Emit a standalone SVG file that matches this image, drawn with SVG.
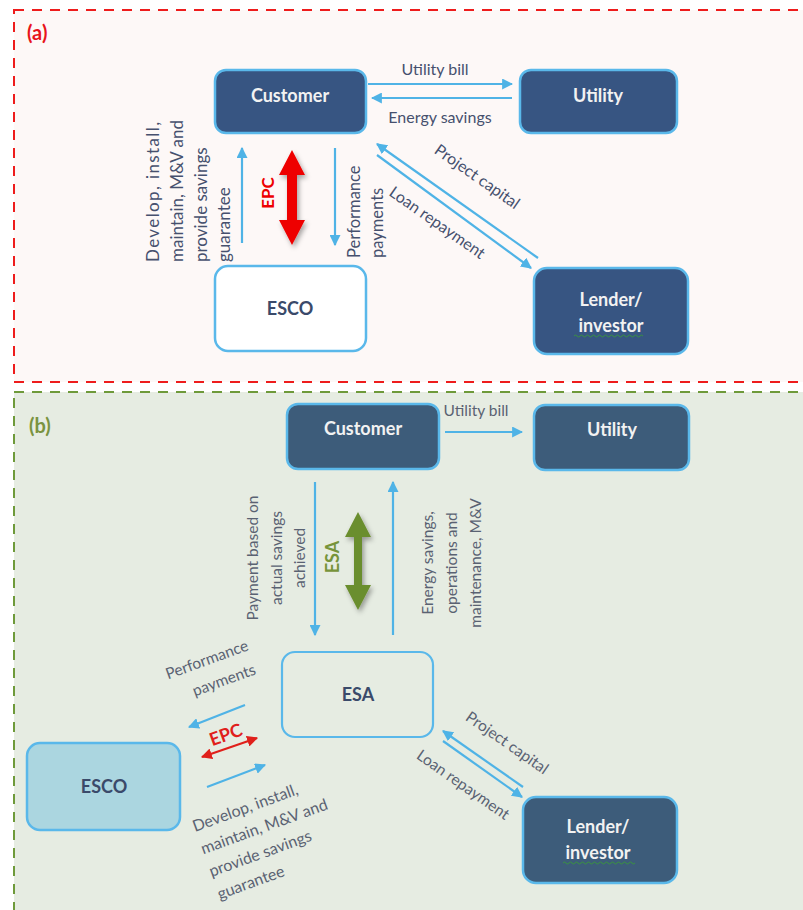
<svg xmlns="http://www.w3.org/2000/svg" width="803" height="910" viewBox="0 0 803 910">
<defs>
<style>
.lbl{font-family:Lato,"Liberation Sans",sans-serif;font-size:16px;fill:#46506e}
.lblb{font-family:Lato,"Liberation Sans",sans-serif;font-size:15.5px;fill:#5a6272}
.nodeA{fill:#375582;stroke:#5ab8ea;stroke-width:2.5}
.nodeB{fill:#3d5c7a;stroke:#5ab8ea;stroke-width:2.5}
.ntxt{font-family:Lato,"Liberation Sans",sans-serif;font-size:18px;font-weight:bold;fill:#f2f2f2;text-anchor:middle}
.dtxt{font-family:Lato,"Liberation Sans",sans-serif;font-size:18px;font-weight:bold;fill:#3a4a6a;text-anchor:middle}
.arr{stroke:#4fb3e6;stroke-width:2.2;fill:none;marker-end:url(#ah)}
</style>
<marker id="ah" viewBox="0 0 10 10" refX="9" refY="5" markerWidth="5" markerHeight="5" orient="auto" markerUnits="strokeWidth">
<path d="M0,0 L10,5 L0,10 z" fill="#4fb3e6"/>
</marker>
<marker id="rh" viewBox="0 0 10 10" refX="9" refY="5" markerWidth="5" markerHeight="5" orient="auto-start-reverse" markerUnits="strokeWidth">
<path d="M0,0 L10,5 L0,10 z" fill="#e0201b"/>
</marker>
<filter id="sh" x="-50%" y="-20%" width="200%" height="140%">
<feDropShadow dx="2" dy="3" stdDeviation="2.5" flood-color="#000" flood-opacity="0.35"/>
</filter>
</defs>
<rect x="0" y="0" width="803" height="910" fill="#ffffff"/>
<g id="panel-a">
<rect x="14" y="10" width="800" height="372" fill="#fdf8f7" stroke="#ee1c1c" stroke-width="2" stroke-dasharray="10 8"/>
<text x="27" y="40" font-family="Lato,'Liberation Sans',sans-serif" font-size="20" font-weight="bold" fill="#e8141b">(a)</text>
</g>
<g id="panel-b">
<rect x="14" y="392" width="800" height="540" fill="#e6ece2" stroke="#6e9a3a" stroke-width="2" stroke-dasharray="10 8"/>
<text x="29" y="433" font-family="Lato,'Liberation Sans',sans-serif" font-size="20" font-weight="bold" fill="#7a9340">(b)</text>
</g>

<g id="connectors">
<!-- panel a -->
<line class="arr" x1="368" y1="84" x2="512" y2="84"/>
<line class="arr" x1="512" y1="98" x2="372" y2="98"/>
<line class="arr" x1="538" y1="258" x2="377" y2="144"/>
<line class="arr" x1="377" y1="155" x2="531" y2="268"/>
<line class="arr" x1="242" y1="243" x2="242" y2="148"/>
<line class="arr" x1="335" y1="148" x2="335" y2="245"/>
<polygon filter="url(#sh)" fill="#ee0000" points="292,150 305,175 297,175 297,220 305,220 292,245 279,220 287,220 287,175 279,175"/>
<!-- panel b -->
<line class="arr" x1="445" y1="432" x2="522" y2="432"/>
<line class="arr" x1="315" y1="482" x2="315" y2="635"/>
<line class="arr" x1="393" y1="635" x2="393" y2="482"/>
<polygon filter="url(#sh)" fill="#6b8e2f" points="358,512 371,537 362,537 362,585 371,585 358,610 345,585 354,585 354,537 345,537"/>
<line class="arr" x1="245" y1="705" x2="189" y2="727"/>
<line x1="202" y1="757" x2="257" y2="738" stroke="#e0201b" stroke-width="2.2" marker-start="url(#rh)" marker-end="url(#rh)"/>
<line class="arr" x1="207" y1="787" x2="265" y2="765"/>
<line class="arr" x1="523" y1="787" x2="443" y2="731"/>
<line class="arr" x1="443" y1="741" x2="522" y2="797"/>
</g>

<g id="labels-a">
<text class="lbl" x="435" y="75" text-anchor="middle">Utility bill</text>
<text class="lbl" x="440" y="123" text-anchor="middle">Energy savings</text>
<text class="lbl" transform="translate(477,177) rotate(35)" text-anchor="middle" dy="5">Project capital</text>
<text class="lbl" transform="translate(437,223) rotate(35)" text-anchor="middle" dy="5">Loan repayment</text>
<g transform="translate(159,262) rotate(-90)" style="font-size:17px">
<text class="lbl" x="0" y="0" style="font-size:17px" textLength="140" lengthAdjust="spacing">Develop, install,</text>
<text class="lbl" x="0" y="24" style="font-size:17px">maintain, M&amp;V and</text>
<text class="lbl" x="0" y="48" style="font-size:17px">provide  savings</text>
<text class="lbl" x="0" y="71" style="font-size:17px">guarantee</text>
</g>
<g transform="translate(360,258) rotate(-90)">
<text class="lbl" x="0" y="0" style="font-size:16.5px">Performance</text>
<text class="lbl" x="0" y="23" style="font-size:16.5px">payments</text>
</g>
<text transform="translate(274,193) rotate(-90)" text-anchor="middle" font-family="Lato,'Liberation Sans',sans-serif" font-size="17" font-weight="bold" fill="#ee0000">EPC</text>
</g>

<g id="labels-b">
<text class="lblb" x="476" y="416" text-anchor="middle">Utility bill</text>
<g transform="translate(258,558) rotate(-90)" text-anchor="middle">
<text class="lblb" x="0" y="0">Payment  based on</text>
<text class="lblb" x="0" y="24">actual savings</text>
<text class="lblb" x="0" y="47">achieved</text>
</g>
<text transform="translate(339,557) rotate(-90)" text-anchor="middle" font-family="Lato,'Liberation Sans',sans-serif" font-size="18" font-weight="bold" fill="#77943a">ESA</text>
<g transform="translate(433,563) rotate(-90)" text-anchor="middle">
<text class="lblb" x="0" y="0">Energy savings,</text>
<text class="lblb" x="0" y="24">operations and</text>
<text class="lblb" x="0" y="48">maintenance, M&amp;V</text>
</g>
<g transform="translate(207,660) rotate(-20)" text-anchor="middle">
<text class="lblb" x="0" y="5">Performance</text>
<text class="lblb" x="9" y="30">payments</text>
</g>
<text transform="translate(226,735) rotate(-20)" text-anchor="middle" dy="6" font-family="Lato,'Liberation Sans',sans-serif" font-size="18" font-weight="bold" fill="#e0201b">EPC</text>
<g transform="translate(195,832) rotate(-20)">
<text class="lblb" x="0" y="0" style="font-size:16px">Develop, install,</text>
<text class="lblb" x="0" y="24" style="font-size:16px">maintain, M&amp;V and</text>
<text class="lblb" x="0" y="48" style="font-size:16px">provide  savings</text>
<text class="lblb" x="0" y="72" style="font-size:16px">guarantee</text>
</g>
<text class="lblb" transform="translate(507,743) rotate(35)" text-anchor="middle" dy="5">Project capital</text>
<text class="lblb" transform="translate(463,785) rotate(35)" text-anchor="middle" dy="5">Loan repayment</text>
</g>

<g id="customer-a">
<rect class="nodeA" x="215" y="70" width="151" height="63" rx="11"/>
<text class="ntxt" x="290" y="102">Customer</text>
</g>
<g id="utility-a">
<rect class="nodeA" x="520" y="70" width="157" height="63" rx="11"/>
<text class="ntxt" x="598" y="102">Utility</text>
</g>
<g id="esco-a">
<rect x="215" y="266" width="151" height="85" rx="13" fill="#ffffff" stroke="#5ab8ea" stroke-width="2.5"/>
<text class="dtxt" x="290" y="315">ESCO</text>
</g>
<g id="lender-a">
<rect class="nodeA" x="534" y="268" width="154" height="86" rx="13"/>
<text class="ntxt" x="611" y="306">Lender/</text>
<text class="ntxt" x="611" y="332">investor</text>
<path d="M574,336 q1.5,-2 3,0 t3,0 t3,0 t3,0 t3,0 t3,0 t3,0 t3,0 t3,0 t3,0 t3,0 t3,0 t3,0 t3,0 t3,0 t3,0 t3,0 t3,0 t3,0 t3,0 t3,0 t3,0 t3,0" fill="none" stroke="#3a9a3a" stroke-width="0.9"/>
</g>

<g id="customer-b">
<rect class="nodeB" x="287" y="404" width="152" height="65" rx="11"/>
<text class="ntxt" x="363" y="435">Customer</text>
</g>
<g id="utility-b">
<rect class="nodeB" x="534" y="405" width="155" height="65" rx="11"/>
<text class="ntxt" x="612" y="436">Utility</text>
</g>
<g id="esa-b">
<rect x="282" y="652" width="151" height="85" rx="13" fill="none" stroke="#5ab8ea" stroke-width="2.2"/>
<text class="dtxt" x="358" y="701">ESA</text>
</g>
<g id="esco-b">
<rect x="27" y="743" width="153" height="87" rx="13" fill="#abd6e0" stroke="#5ab8ea" stroke-width="2.5"/>
<text class="dtxt" x="104" y="793">ESCO</text>
</g>
<g id="lender-b">
<rect class="nodeB" x="523" y="797" width="154" height="86" rx="13"/>
<text class="ntxt" x="598" y="833">Lender/</text>
<text class="ntxt" x="598" y="859">investor</text>
<path d="M563,863 q1.5,-2 3,0 t3,0 t3,0 t3,0 t3,0 t3,0 t3,0 t3,0 t3,0 t3,0 t3,0 t3,0 t3,0 t3,0 t3,0 t3,0 t3,0 t3,0 t3,0 t3,0 t3,0 t3,0 t3,0 t3,0" fill="none" stroke="#3a9a3a" stroke-width="0.9"/>
</g>
</svg>
